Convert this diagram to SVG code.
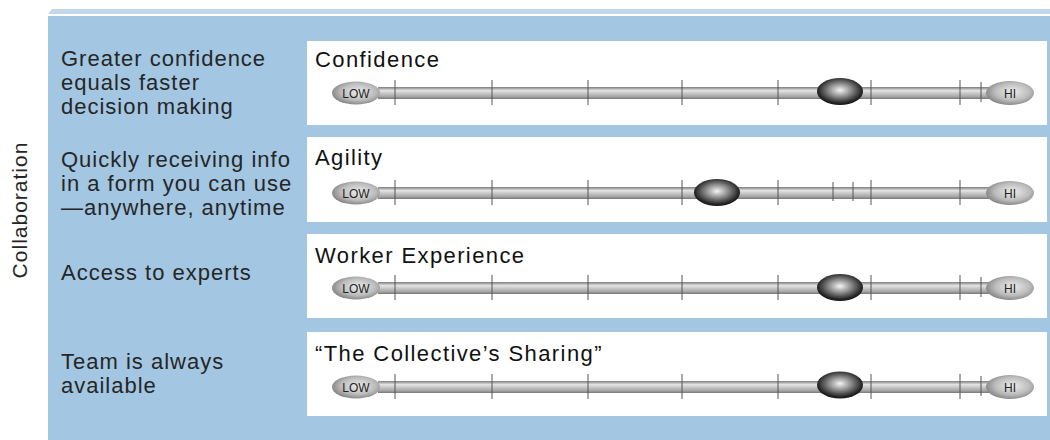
<svg xmlns="http://www.w3.org/2000/svg" width="1050" height="440" viewBox="0 0 1050 440">
  <style>
    .lbl { font-family: "Liberation Sans", Arial, sans-serif; font-size: 22px; letter-spacing: 1px; fill: #262626; }
    .ttl { font-family: "Liberation Sans", Arial, sans-serif; font-size: 22px; letter-spacing: 1.4px; fill: #111; }
    .end { font-family: "Liberation Sans", Arial, sans-serif; font-size: 12px; fill: #222; text-anchor: middle; }
    .tick { stroke: #555; stroke-width: 1; }
    .panel { fill: #ffffff; }
  </style>
  <defs>
    <linearGradient id="tube" x1="0" y1="0" x2="0" y2="1">
      <stop offset="0" stop-color="#7c7c7c"/>
      <stop offset="0.3" stop-color="#e4e4e4"/>
      <stop offset="0.55" stop-color="#c4c4c4"/>
      <stop offset="0.8" stop-color="#a6a6a6"/>
      <stop offset="1" stop-color="#777"/>
    </linearGradient>
    <radialGradient id="cap" cx="0.55" cy="0.45" r="0.6">
      <stop offset="0" stop-color="#ececec"/>
      <stop offset="0.6" stop-color="#bcbcbc"/>
      <stop offset="1" stop-color="#7d7d7d"/>
    </radialGradient>
    <radialGradient id="knob" cx="0.5" cy="0.45" r="0.55">
      <stop offset="0" stop-color="#f4f4f4"/>
      <stop offset="0.45" stop-color="#8a8a8a"/>
      <stop offset="0.85" stop-color="#2a2a2a"/>
      <stop offset="1" stop-color="#111"/>
    </radialGradient>
    <g id="scale">
      <rect x="378" y="-6" width="612" height="12" fill="url(#tube)"/>
      <g class="tick">
        <line x1="395" y1="-13" x2="395" y2="12"/>
        <line x1="492" y1="-13" x2="492" y2="12"/>
        <line x1="588" y1="-13" x2="588" y2="12"/>
        <line x1="682" y1="-13" x2="682" y2="12"/>
        <line x1="778" y1="-13" x2="778" y2="12"/>
        <line x1="871" y1="-13" x2="871" y2="12"/>
        <line x1="960" y1="-13" x2="960" y2="12"/>
      </g>
    </g>
    <g id="low">
      <ellipse cx="356" cy="0" rx="24" ry="11.5" fill="url(#cap)"/>
      <text class="end" x="356" y="4.5">LOW</text>
    </g>
    <g id="hi">
      <ellipse cx="1010" cy="0" rx="24" ry="12" fill="url(#cap)"/>
      <text class="end" x="1010" y="4.5">HI</text>
    </g>
  </defs>

  <!-- backdrop -->
  <polygon points="48,14 52,9 1050,9 1050,14" fill="#c2d7e9"/>
  <rect x="48" y="16" width="1002" height="424" fill="#a3c6e2"/>

  <text id="axis-label" class="lbl" transform="translate(27,210) rotate(-90)" text-anchor="middle" style="font-size:21px">Collaboration</text>

  <g id="row-confidence">
    <text class="lbl" x="61" y="66">Greater confidence</text>
    <text class="lbl" x="61" y="90">equals faster</text>
    <text class="lbl" x="61" y="114">decision making</text>
    <rect class="panel" x="307" y="41" width="740" height="84"/>
    <text class="ttl" x="315" y="67">Confidence</text>
    <g transform="translate(0,93)">
      <use href="#scale"/>
      <line class="tick" x1="981" y1="-11" x2="981" y2="9"/>
      <use href="#low"/>
      <use href="#hi"/>
      <ellipse cx="840" cy="-1.5" rx="23" ry="13.5" fill="url(#knob)"/>
    </g>
  </g>

  <g id="row-agility">
    <text class="lbl" x="61" y="167">Quickly receiving info</text>
    <text class="lbl" x="61" y="191">in a form you can use</text>
    <text class="lbl" x="61" y="215">—anywhere, anytime</text>
    <rect class="panel" x="307" y="137" width="740" height="85"/>
    <text class="ttl" x="315" y="165">Agility</text>
    <g transform="translate(0,193)">
      <use href="#scale"/>
      <line class="tick" x1="833" y1="-11" x2="833" y2="8"/>
      <line class="tick" x1="853" y1="-11" x2="853" y2="8"/>
      <use href="#low"/>
      <use href="#hi"/>
      <ellipse cx="717" cy="-0.5" rx="23" ry="13.5" fill="url(#knob)"/>
    </g>
  </g>

  <g id="row-worker-experience">
    <text class="lbl" x="61" y="280">Access to experts</text>
    <rect class="panel" x="307" y="234" width="740" height="84"/>
    <text class="ttl" x="315" y="263">Worker Experience</text>
    <g transform="translate(0,288)">
      <use href="#scale"/>
      <line class="tick" x1="981" y1="-11" x2="981" y2="9"/>
      <use href="#low"/>
      <use href="#hi"/>
      <ellipse cx="840" cy="-0.5" rx="23" ry="13.5" fill="url(#knob)"/>
    </g>
  </g>

  <g id="row-collective-sharing">
    <text class="lbl" x="61" y="369">Team is always</text>
    <text class="lbl" x="61" y="393">available</text>
    <rect class="panel" x="307" y="332" width="740" height="84"/>
    <text class="ttl" x="315" y="361">“The Collective’s Sharing”</text>
    <g transform="translate(0,387)">
      <use href="#scale"/>
      <line class="tick" x1="981" y1="-11" x2="981" y2="9"/>
      <use href="#low"/>
      <use href="#hi"/>
      <ellipse cx="840" cy="-2" rx="23" ry="13.5" fill="url(#knob)"/>
    </g>
  </g>
</svg>
